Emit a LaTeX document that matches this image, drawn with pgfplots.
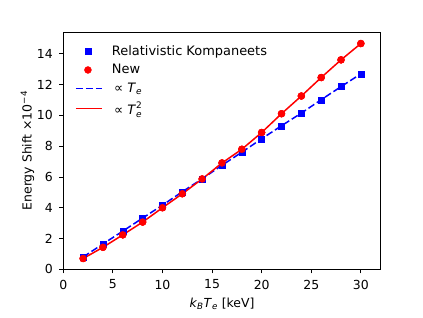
\documentclass[border=0pt]{standalone}
\usepackage{pgfplots}
\pgfplotsset{compat=1.18}
\usepackage{fontspec}
\setmainfont{DejaVu Sans}
\definecolor{mblue}{RGB}{0,0,255}
\definecolor{mred}{RGB}{255,0,0}
\newcommand{\Tsub}[1]{\mbox{\textit{T}}_{\mbox{\fontsize{9}{10}\selectfont\textit{e}}}#1}
\pgfplotsset{
  markleg/.style={legend image code/.code={\path[draw=none,fill=none] (0bp,0bp) -- (36bp,0bp); \draw[##1] plot coordinates {(12bp,0bp)};}},
  lineleg/.style={legend image code/.code={\draw[##1] (0bp,0bp) -- (26bp,0bp); \path[draw=none,fill=none] (0bp,0bp) -- (36bp,0bp);}},
}
\begin{document}
\begin{tikzpicture}
\path[use as bounding box] (0,0) rectangle (423bp,318bp);
\begin{axis}[
  at={(63.3bp,48.7bp)}, anchor=south west,
  scale only axis, width=317.4bp, height=237.3bp,
  xmin=0, xmax=32, ymin=0, ymax=15.42,
  xtick={0,5,...,30}, ytick={0,2,...,14},
  tick align=outside, tick pos=left,
  major tick length=4bp,
  every tick/.style={black, line width=0.8bp},
  axis line style={line width=0.8bp, black},
  /pgf/number format/assume math mode=true,
  tick label style={font=\fontsize{12.5}{14}\selectfont},
  xticklabel style={yshift=-3bp},
  yticklabel style={xshift=-3bp},
  label style={font=\fontsize{12.5}{14}\selectfont},
  xlabel style={yshift=-2bp},
  ylabel style={yshift=-4bp},
  xlabel={\textit{k}\textsubscript{\textit{B}}\textit{T}\textsubscript{\textit{e}} [keV]},
  ylabel={Energy Shift ×10\textsuperscript{−4}},
  legend cell align=left,
  legend style={draw=none, fill=none, at={(0,1)}, anchor=north west, xshift=11.7bp, yshift=-11.5bp,
    font=\fontsize{13}{15}\selectfont, row sep=3.5bp, inner sep=0pt,
    cells={anchor=west}, column sep=0pt,
    nodes={inner xsep=0pt}},
  lineleg,
]
\addplot[only marks, mark=square*, mark size=3bp, color=mblue, markleg] coordinates {
(2,0.80)(4,1.65)(6,2.48)(8,3.33)(10,4.17)(12,5.04)(14,5.88)(16,6.76)(18,7.61)(20,8.48)(22,9.33)(24,10.15)(26,11.02)(28,11.87)(30,12.70)};
\addlegendentry{Relativistic Kompaneets}
\addplot[only marks, mark=*, mark size=3.5bp, color=mred, markleg] coordinates {
(2,0.70)(4,1.43)(6,2.24)(8,3.07)(10,4.00)(12,4.91)(14,5.87)(16,6.91)(18,7.80)(20,8.89)(22,10.11)(24,11.26)(26,12.46)(28,13.61)(30,14.67)};
\addlegendentry{New}
\addplot[no marks, mblue, line width=1.5bp, dash pattern=on 7bp off 3bp] coordinates {
(2,0.80)(4,1.65)(6,2.48)(8,3.33)(10,4.17)(12,5.04)(14,5.88)(16,6.76)(18,7.61)(20,8.48)(22,9.33)(24,10.15)(26,11.02)(28,11.87)(30,12.70)};
\addlegendentry{\,∝ $\Tsub{}$}
\addplot[no marks, mred, line width=1.5bp] coordinates {
(2,0.70)(4,1.43)(6,2.24)(8,3.07)(10,4.00)(12,4.91)(14,5.87)(16,6.91)(18,7.80)(20,8.89)(22,10.11)(24,11.26)(26,12.46)(28,13.61)(30,14.67)};
\addlegendentry{\,∝ $\Tsub{^{\mbox{\fontsize{9}{10}\selectfont 2}}}$}
\addplot[forget plot, only marks, mark=square*, mark size=3bp, color=mblue] coordinates {
(2,0.80)(4,1.65)(6,2.48)(8,3.33)(10,4.17)(12,5.04)(14,5.88)(16,6.76)(18,7.61)(20,8.48)(22,9.33)(24,10.15)(26,11.02)(28,11.87)(30,12.70)};
\addplot[forget plot, only marks, mark=*, mark size=3.5bp, color=mred] coordinates {
(2,0.70)(4,1.43)(6,2.24)(8,3.07)(10,4.00)(12,4.91)(14,5.87)(16,6.91)(18,7.80)(20,8.89)(22,10.11)(24,11.26)(26,12.46)(28,13.61)(30,14.67)};
\end{axis}
\end{tikzpicture}
\end{document}
